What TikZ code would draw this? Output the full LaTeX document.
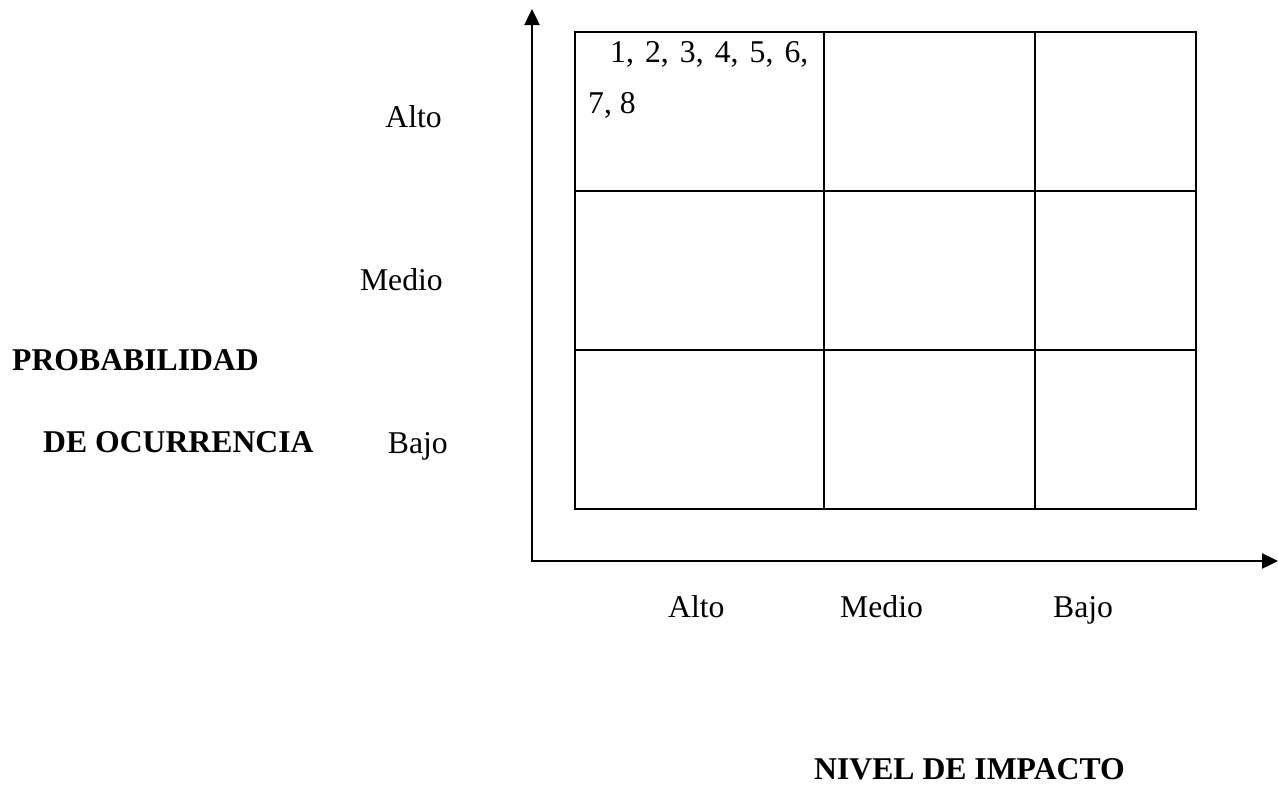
\documentclass[tikz,border=0pt]{standalone}
\usepackage{fontspec}
\setmainfont{Liberation Serif}
\usetikzlibrary{arrows.meta,positioning}

\begin{document}
\begin{tikzpicture}[x=1pt,y=-1pt,
	every node/.style={inner sep=0pt,font=\fontsize{31.7}{38}\selectfont},
	axis/.style={line width=2.4pt,{Triangle[length=16pt,width=15pt]}-{Triangle[length=16pt,width=15pt]}},
	cell/.style={line width=2pt}]

	\useasboundingbox (0,0) rectangle (1278,790);

	\coordinate (ytip) at (532,9);
	\coordinate (origin) at (532,561);
	\coordinate (xtip) at (1278,561);
	\draw[axis] (ytip) -- (origin) -- (xtip);

	\coordinate (gridNW) at (575,32);
	\coordinate (gridSE) at (1196,509);
	\draw[cell] (gridNW) rectangle (gridSE);
	\foreach \x in {824,1035}
		\draw[cell] (\x,32) -- (\x,509);
	\foreach \y in {191,350}
		\draw[cell] (575,\y) -- (1196,\y);

	\node[anchor=base west](risks) at (610,62) {\spaceskip=0.35em\relax 1, 2, 3, 4, 5, 6,};
	\node[anchor=base west](risksb) at (588,113) {7, 8};

	\node[anchor=base east](probalto) at (442,127) {Alto};
	\node[anchor=base east](probmedio) at (443,290) {Medio};
	\node[anchor=base east](probbajo) at (448,453) {Bajo};
	\node[anchor=base west](prob) at (12,370) {\bfseries PROBABILIDAD};
	\node[anchor=base west](ocurr) at (43,452) {\bfseries DE OCURRENCIA};

	\node[anchor=base west](impalto) at (668,617) {Alto};
	\node[anchor=base west](impmedio) at (840,617) {Medio};
	\node[anchor=base west](impbajo) at (1053,617) {Bajo};
	\node[anchor=base west](nivel) at (814,779) {\bfseries NIVEL DE IMPACTO};

\end{tikzpicture}
\end{document}
